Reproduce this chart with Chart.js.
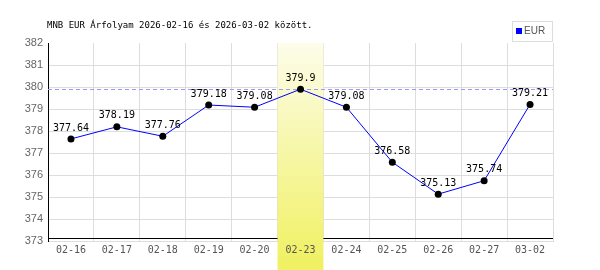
<!DOCTYPE html>
<html>
<head>
<meta charset="utf-8">
<script src="https://cdn.jsdelivr.net/npm/chart.js@4"></script>
<style>
  body { margin: 0; background: #fff; }
  canvas { display: block; }
</style>
</head>
<body>
<canvas id="rateChart" width="600" height="270"></canvas>
<script>
// EUR rates (MNB)
const dates = ["02-16", "02-17", "02-18", "02-19", "02-20", "02-23", "02-24", "02-25", "02-26", "02-27", "03-02"];
const eurRates = [377.64, 378.19, 377.76, 379.18, 379.08, 379.9, 379.08, 376.58, 375.13, 375.74, 379.21];
const yTicks = [373, 374, 375, 376, 377, 378, 379, 380, 381, 382];
const highlightDate = "02-23";
const titleText = "MNB EUR Árfolyam 2026-02-16 és 2026-03-02 között.";
const seriesName = "EUR";

const monoFont = "'DejaVu Sans Mono', monospace";

const decorPlugin = {
    id: "decor",
    beforeDatasetsDraw(chart) {
        const ctx = chart.ctx;
        const x = chart.scales.x;
        const y = chart.scales.y;
        const area = chart.chartArea;

        // black base line, a little above the 373 grid line
        ctx.save();
        ctx.strokeStyle = "#000";
        ctx.lineWidth = 1;
        ctx.beginPath();
        ctx.moveTo(area.left, Math.round(area.bottom) - 2.5);
        ctx.lineTo(area.right, Math.round(area.bottom) - 2.5);
        ctx.stroke();
        ctx.restore();

        // highlighted day column
        const idx = dates.indexOf(highlightDate);
        const half = (x.getPixelForValue(1) - x.getPixelForValue(0)) / 2;
        const cx = x.getPixelForValue(idx);
        const grad = ctx.createLinearGradient(0, area.top, 0, chart.height);
        grad.addColorStop(0, "#fdfdea");
        grad.addColorStop(1, "#f0f060");
        ctx.save();
        ctx.fillStyle = grad;
        ctx.fillRect(cx - half, area.top, half * 2, chart.height - area.top);
        ctx.beginPath();
        ctx.rect(cx - half, area.top, half * 2, chart.height - area.top);
        ctx.clip();
        x.drawLabels(area);
        ctx.restore();

        // max line
        const maxY = Math.round(y.getPixelForValue(Math.max(...eurRates))) + 0.5;
        ctx.save();
        ctx.strokeStyle = "#9999ff";
        ctx.lineWidth = 1;
        ctx.setLineDash([4, 3]);
        ctx.beginPath();
        ctx.moveTo(area.left, maxY);
        ctx.lineTo(area.right, maxY);
        ctx.stroke();
        ctx.restore();
    },
    afterDatasetsDraw(chart) {
        const ctx = chart.ctx;
        const meta = chart.getDatasetMeta(0);
        ctx.save();
        ctx.fillStyle = "#000";
        ctx.font = "10px " + monoFont;
        ctx.textAlign = "center";
        ctx.textBaseline = "middle";
        meta.data.forEach((pt, i) => {
            ctx.fillText(String(eurRates[i]), pt.x, pt.y - 11);
        });
        ctx.restore();
    },
    afterDraw(chart) {
        const ctx = chart.ctx;
        ctx.save();
        // title
        ctx.fillStyle = "#000";
        ctx.font = "9px " + monoFont;
        ctx.textBaseline = "middle";
        ctx.fillText(titleText, 47, 26);

        // legend
        ctx.strokeStyle = "#dddddd";
        ctx.lineWidth = 1;
        ctx.strokeRect(512.5, 21.5, 40, 20);
        ctx.fillStyle = "#0000ff";
        ctx.fillRect(516, 28, 6, 6);
        ctx.fillStyle = "#555";
        ctx.font = "10px 'Liberation Sans', sans-serif";
        ctx.fillText(seriesName, 524, 31.5);
        ctx.restore();
    }
};

const ctx = document.getElementById("rateChart").getContext("2d");

new Chart(ctx, {
    type: "line",
    data: {
        labels: dates,
        datasets: [{
            label: seriesName,
            data: eurRates,
            borderColor: "#0000ff",
            borderWidth: 1,
            pointRadius: 3.5,
            pointBackgroundColor: "#000",
            pointBorderWidth: 0,
            tension: 0,
            fill: false
        }]
    },
    options: {
        responsive: false,
        animation: false,
        layout: {
            padding: { top: 43, right: 47, left: 0, bottom: 0 }
        },
        plugins: {
            legend: { display: false },
            title: { display: false },
            tooltip: { enabled: false }
        },
        scales: {
            x: {
                offset: true,
                afterFit: s => { s.height = 29; },
                grid: {
                    offset: true,
                    color: "#dddddd",
                    drawTicks: false
                },
                border: { color: "#dddddd", width: 1 },
                ticks: {
                    color: "#555",
                    padding: 3,
                    font: { family: monoFont, size: 10 }
                }
            },
            y: {
                min: 373,
                max: 382,
                afterFit: s => { s.width = 48; },
                afterBuildTicks: s => { s.ticks = yTicks.map(v => ({ value: v })); },
                grid: {
                    color: c => (c.tick && c.tick.value === 382) ? "rgba(0,0,0,0)" : "#dddddd",
                    drawTicks: false
                },
                border: { color: "#000", width: 1 },
                ticks: {
                    color: "#666",
                    padding: 5,
                    font: { family: "'Liberation Sans', sans-serif", size: 11 }
                }
            }
        }
    },
    plugins: [decorPlugin]
});
</script>
</body>
</html>
